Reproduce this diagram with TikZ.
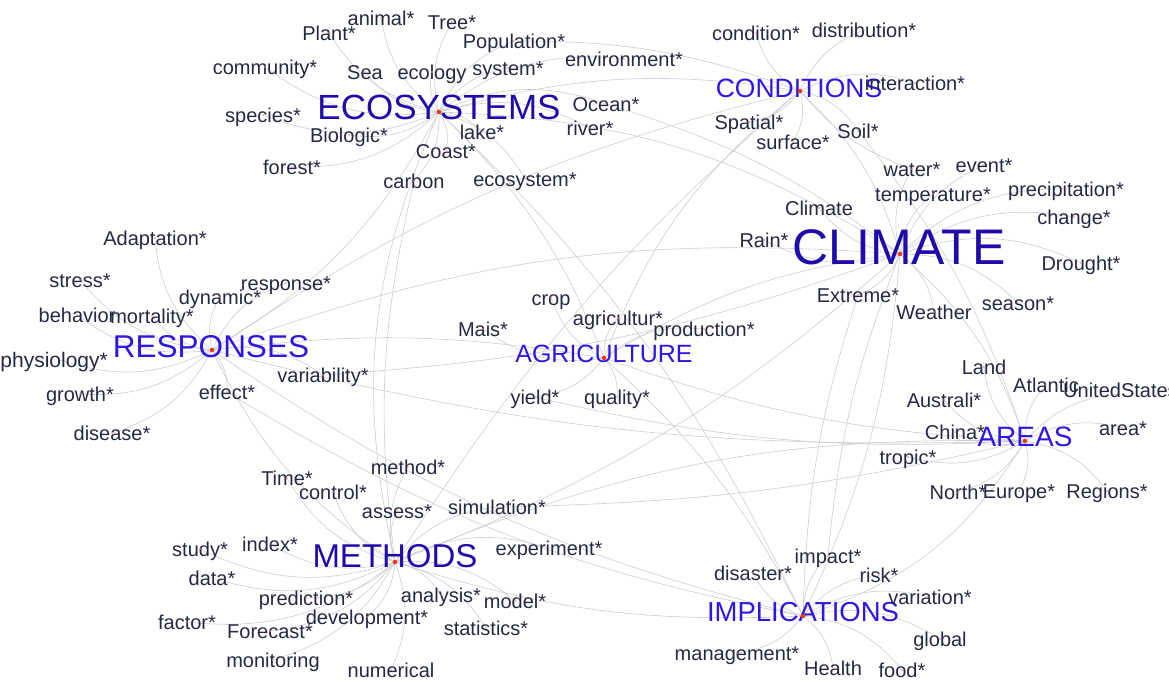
\documentclass[tikz,border=0pt]{standalone}
\usepackage{fontspec}
\setmainfont{Liberation Sans}
\pgfdeclarelayer{edges}
\pgfsetlayers{edges,main}
\definecolor{wordc}{RGB}{38,40,68}
\definecolor{hubA}{RGB}{32,10,170}
\definecolor{hubB}{RGB}{48,22,225}
\definecolor{edgec}{RGB}{205,205,205}
\definecolor{dotc}{RGB}{235,55,25}
\tikzset{
  wd/.style={text=wordc, inner sep=0pt, font=\fontsize{20}{20}\selectfont, text height=14.3pt, text depth=0pt},
  hub/.style={inner sep=0pt, text depth=0pt},
  lk/.style={draw=edgec, line width=0.6pt},
  hdot/.style={circle, fill=dotc, inner sep=0pt, minimum size=4.5pt},
  wdot/.style={circle, fill=dotc!55, inner sep=0pt, minimum size=1.6pt}
}
\begin{document}
\begin{tikzpicture}[x=1pt,y=-1pt]
\useasboundingbox (0,0) rectangle (1169,680);
% hub dots
\coordinate (ECOd) at (439,112);
\coordinate (CONd) at (800,91);
\coordinate (CLId) at (900,254);
\coordinate (RESd) at (212,350);
\coordinate (AGRd) at (604,358);
\coordinate (METd) at (395,562);
\coordinate (ARId) at (1025,441);
\coordinate (IMPd) at (803,616);
% hubs
\node[hub, text=hubA, font=\fontsize{35}{35}\selectfont, text height=25pt] (ECO) at (439,107) {ECOSYSTEMS};
\node[hub, text=hubB, font=\fontsize{26.5}{26.5}\selectfont, text height=19pt] (CON) at (799,88) {CONDITIONS};
\node[hub, text=hubA, font=\fontsize{50}{50}\selectfont, text height=36pt] (CLI) at (899,246) {CLIMATE};
\node[hub, text=hubB, font=\fontsize{31.5}{31.5}\selectfont, text height=22.6pt] (RES) at (211,346) {RESPONSES};
\node[hub, text=hubB, font=\fontsize{25}{25}\selectfont, text height=18pt] (AGR) at (604,353) {AGRICULTURE};
\node[hub, text=hubA, font=\fontsize{33}{33}\selectfont, text height=23.6pt] (MET) at (395,556) {METHODS};
\node[hub, text=hubB, font=\fontsize{28}{28}\selectfont, text height=20pt] (ARE) at (1025,436) {AREAS};
\node[hub, text=hubB, font=\fontsize{27.5}{27.5}\selectfont, text height=19.7pt] (IMP) at (803,612) {IMPLICATIONS};
% ecosystems words
\node[wd] (Plant) at (329,33) {Plant*};
\node[wd] (animal) at (381,18) {animal*};
\node[wd] (Tree) at (452,22) {Tree*};
\node[wd] (Population) at (514,41) {Population*};
\node[wd] (community) at (265,67) {community*};
\node[wd] (Sea) at (365,72) {Sea};
\node[wd] (ecology) at (432,72) {ecology};
\node[wd] (system) at (508,68) {system*};
\node[wd] (environment) at (624,59) {environment*};
\node[wd] (species) at (263,115) {species*};
\node[wd] (Biologic) at (349,135) {Biologic*};
\node[wd] (lake) at (482,132) {lake*};
\node[wd] (Ocean) at (606,104) {Ocean*};
\node[wd] (river) at (590,128) {river*};
\node[wd] (forest) at (292,167) {forest*};
\node[wd] (Coast) at (446,151) {Coast*};
\node[wd] (carbon) at (414,181) {carbon};
\node[wd] (ecosystem) at (525,179) {ecosystem*};
% conditions words
\node[wd] (condition) at (756,33) {condition*};
\node[wd] (distribution) at (864,30) {distribution*};
\node[wd] (interaction) at (915,83) {interaction*};
\node[wd] (Spatial) at (749,122) {Spatial*};
\node[wd] (surface) at (793,142) {surface*};
\node[wd] (Soil) at (858,131) {Soil*};
% climate words
\node[wd] (water) at (912,169) {water*};
\node[wd] (event) at (984,165) {event*};
\node[wd] (temperature) at (933,194) {temperature*};
\node[wd] (precipitation) at (1066,189) {precipitation*};
\node[wd] (Climate) at (819,208) {Climate};
\node[wd] (change) at (1074,217) {change*};
\node[wd] (Rain) at (764,240) {Rain*};
\node[wd] (Drought) at (1081,263) {Drought*};
\node[wd] (Extreme) at (858,295) {Extreme*};
\node[wd] (Weather) at (934,312) {Weather};
\node[wd] (season) at (1018,303) {season*};
% areas words
\node[wd] (Land) at (984,367) {Land};
\node[wd] (Atlantic) at (1046,385) {Atlantic};
\node[wd, anchor=west] (UnitedStates) at (1063,390) {UnitedStates};
\node[wd] (Australi) at (944,400) {Australi*};
\node[wd] (China) at (955,432) {China*};
\node[wd] (area) at (1123,428) {area*};
\node[wd] (tropic) at (908,457) {tropic*};
\node[wd] (North) at (958,492) {North*};
\node[wd] (Europe) at (1019,491) {Europe*};
\node[wd] (Regions) at (1107,491) {Regions*};
% responses words
\node[wd] (Adaptation) at (155,238) {Adaptation*};
\node[wd] (stress) at (80,280) {stress*};
\node[wd] (response) at (286,283) {response*};
\node[wd] (dynamic) at (220,297) {dynamic*};
\node[wd] (behavior) at (77,315) {behavior};
\node[wd] (mortality) at (152,316) {mortality*};
\node[wd, anchor=east, font=\fontsize{21}{21}\selectfont] (physiology) at (108,360) {physiology*};
\node[wd] (variability) at (323,375) {variability*};
\node[wd] (growth) at (80,394) {growth*};
\node[wd] (effect) at (227,392) {effect*};
\node[wd] (disease) at (112,433) {disease*};
% agriculture words
\node[wd] (crop) at (551,298) {crop};
\node[wd] (agricultur) at (618,318) {agricultur*};
\node[wd] (production) at (704,329) {production*};
\node[wd] (Mais) at (483,329) {Mais*};
\node[wd] (yield) at (535,397) {yield*};
\node[wd] (quality) at (617,397) {quality*};
% methods words
\node[wd] (method) at (408,467) {method*};
\node[wd] (Time) at (287,478) {Time*};
\node[wd] (control) at (333,492) {control*};
\node[wd] (assess) at (397,511) {assess*};
\node[wd] (simulation) at (497,507) {simulation*};
\node[wd] (experiment) at (549,548) {experiment*};
\node[wd] (study) at (200,549) {study*};
\node[wd] (index) at (270,544) {index*};
\node[wd] (data) at (212,578) {data*};
\node[wd] (prediction) at (306,598) {prediction*};
\node[wd] (analysis) at (441,595) {analysis*};
\node[wd] (model) at (515,601) {model*};
\node[wd] (factor) at (187,622) {factor*};
\node[wd] (Forecast) at (270,631) {Forecast*};
\node[wd] (development) at (367,617) {development*};
\node[wd] (statistics) at (486,628) {statistics*};
\node[wd] (monitoring) at (273,660) {monitoring};
\node[wd] (numerical) at (391,670) {numerical};
% implications words
\node[wd] (impact) at (828,556) {impact*};
\node[wd] (disaster) at (753,573) {disaster*};
\node[wd] (risk) at (879,575) {risk*};
\node[wd] (variation) at (930,597) {variation*};
\node[wd] (global) at (940,639) {global};
\node[wd] (management) at (737,653) {management*};
\node[wd] (Health) at (833,668) {Health};
\node[wd] (food) at (902,670) {food*};

\begin{pgfonlayer}{edges}
% spokes
\foreach \w in {Plant,animal,Tree,Population,community,Sea,ecology,system,environment,species,Biologic,lake,Ocean,river,forest,Coast,carbon,ecosystem}
  \draw[lk] (ECOd) to[bend left=22] (\w.center);
\foreach \w in {condition,distribution,interaction,Spatial,surface,Soil}
  \draw[lk] (CONd) to[bend left=22] (\w.center);
\foreach \w in {water,event,temperature,precipitation,Climate,change,Rain,Drought,Extreme,Weather,season}
  \draw[lk] (CLId) to[bend left=22] (\w.center);
\foreach \w in {Land,Atlantic,Australi,China,area,tropic,North,Europe,Regions}
  \draw[lk] (ARId) to[bend left=22] (\w.center);
\coordinate (USd) at (1122,394);
\draw[lk] (ARId) to[bend left=22] (USd);
\foreach \w in {Adaptation,stress,response,dynamic,behavior,mortality,variability,growth,effect,disease}
  \draw[lk] (RESd) to[bend left=22] (\w.center);
\coordinate (PHd) at (60,360);
\draw[lk] (RESd) to[bend left=22] (PHd);
\foreach \w in {crop,agricultur,production,Mais,yield,quality}
  \draw[lk] (AGRd) to[bend left=22] (\w.center);
\foreach \w in {method,Time,control,assess,simulation,experiment,study,index,data,prediction,analysis,model,factor,Forecast,development,statistics,monitoring,numerical}
  \draw[lk] (METd) to[bend left=22] (\w.center);
\foreach \w in {impact,disaster,risk,variation,global,management,Health,food}
  \draw[lk] (IMPd) to[bend left=22] (\w.center);
% hub to hub
\draw[lk] (ECOd) to[bend left=12] (CONd);
\draw[lk] (Population.center) to[bend left=10] (CONd);
\draw[lk] (ECOd) to[bend left=15] (CLId);
\draw[lk] (ECOd) to[bend left=15] (RESd);
\draw[lk] (METd) to[bend left=18] (ECOd);
\draw[lk] (ECOd) to[bend left=12] (AGRd);
\draw[lk] (ECOd) to[bend left=10] (IMPd);
\draw[lk] (CONd) to[bend left=15] (CLId);
\draw[lk] (CONd) to[bend right=15] (AGRd);
\draw[lk] (CONd) to[bend right=10] (RESd);
\draw[lk] (CONd) to[bend right=8] (METd);
\draw[lk] (RESd) to[bend left=12] (CLId);
\draw[lk] (AGRd) to[bend left=12] (CLId);
\draw[lk] (CLId) to[bend left=15] (ARId);
\draw[lk] (CLId) to[bend left=10] (IMPd);
\draw[lk] (CLId) to[bend left=10] (METd);
\draw[lk] (RESd) to[bend right=8] (ARId);
\draw[lk] (RESd) to[bend right=15] (METd);
\draw[lk] (RESd) to[bend left=8] (AGRd);
\draw[lk] (RESd) to[bend right=10] (IMPd);
\draw[lk] (AGRd) to[bend left=10] (IMPd);
\draw[lk] (AGRd) to[bend right=8] (ARId);
\draw[lk] (METd) to[bend right=10] (IMPd);
\draw[lk] (METd) to[bend left=12] (ARId);
\draw[lk] (IMPd) to[bend right=20] (ARId);
% cross links
\draw[lk] (Ocean.center) to[bend left=10] (CLId);
\draw[lk] (water.center) to[bend left=15] (CONd);
\draw[lk] (variability.center) to[bend right=8] (CLId);
\draw[lk] (simulation.center) to[bend right=6] (ARId);
\draw[lk] (yield.center) to[bend right=8] (ARId);
\draw[lk] (impact.center) to[bend left=8] (CLId);
\draw[lk] (Extreme.center) to[bend right=8] (IMPd);
\draw[lk] (carbon.center) to[bend right=10] (METd);
\draw[lk] (Soil.center) to[bend left=10] (ARId);
\draw[lk] (effect.center) to[bend right=10] (IMPd);
\end{pgfonlayer}
% dots
\foreach \w in {Plant,animal,Tree,Population,community,Sea,ecology,system,environment,species,Biologic,lake,Ocean,river,forest,Coast,carbon,ecosystem,condition,distribution,interaction,Spatial,surface,Soil,water,event,temperature,precipitation,Climate,change,Rain,Drought,Extreme,Weather,season,Land,Atlantic,Australi,China,area,tropic,North,Europe,Regions,Adaptation,stress,response,dynamic,behavior,mortality,variability,growth,effect,disease,crop,agricultur,production,Mais,yield,quality,method,Time,control,assess,simulation,experiment,study,index,data,prediction,analysis,model,factor,Forecast,development,statistics,monitoring,numerical,impact,disaster,risk,variation,global,management,Health,food}
  \node[wdot] at (\w.center) {};
\foreach \h in {ECOd,CONd,CLId,RESd,AGRd,METd,ARId,IMPd}
  \node[hdot] at (\h) {};
\end{tikzpicture}
\end{document}
